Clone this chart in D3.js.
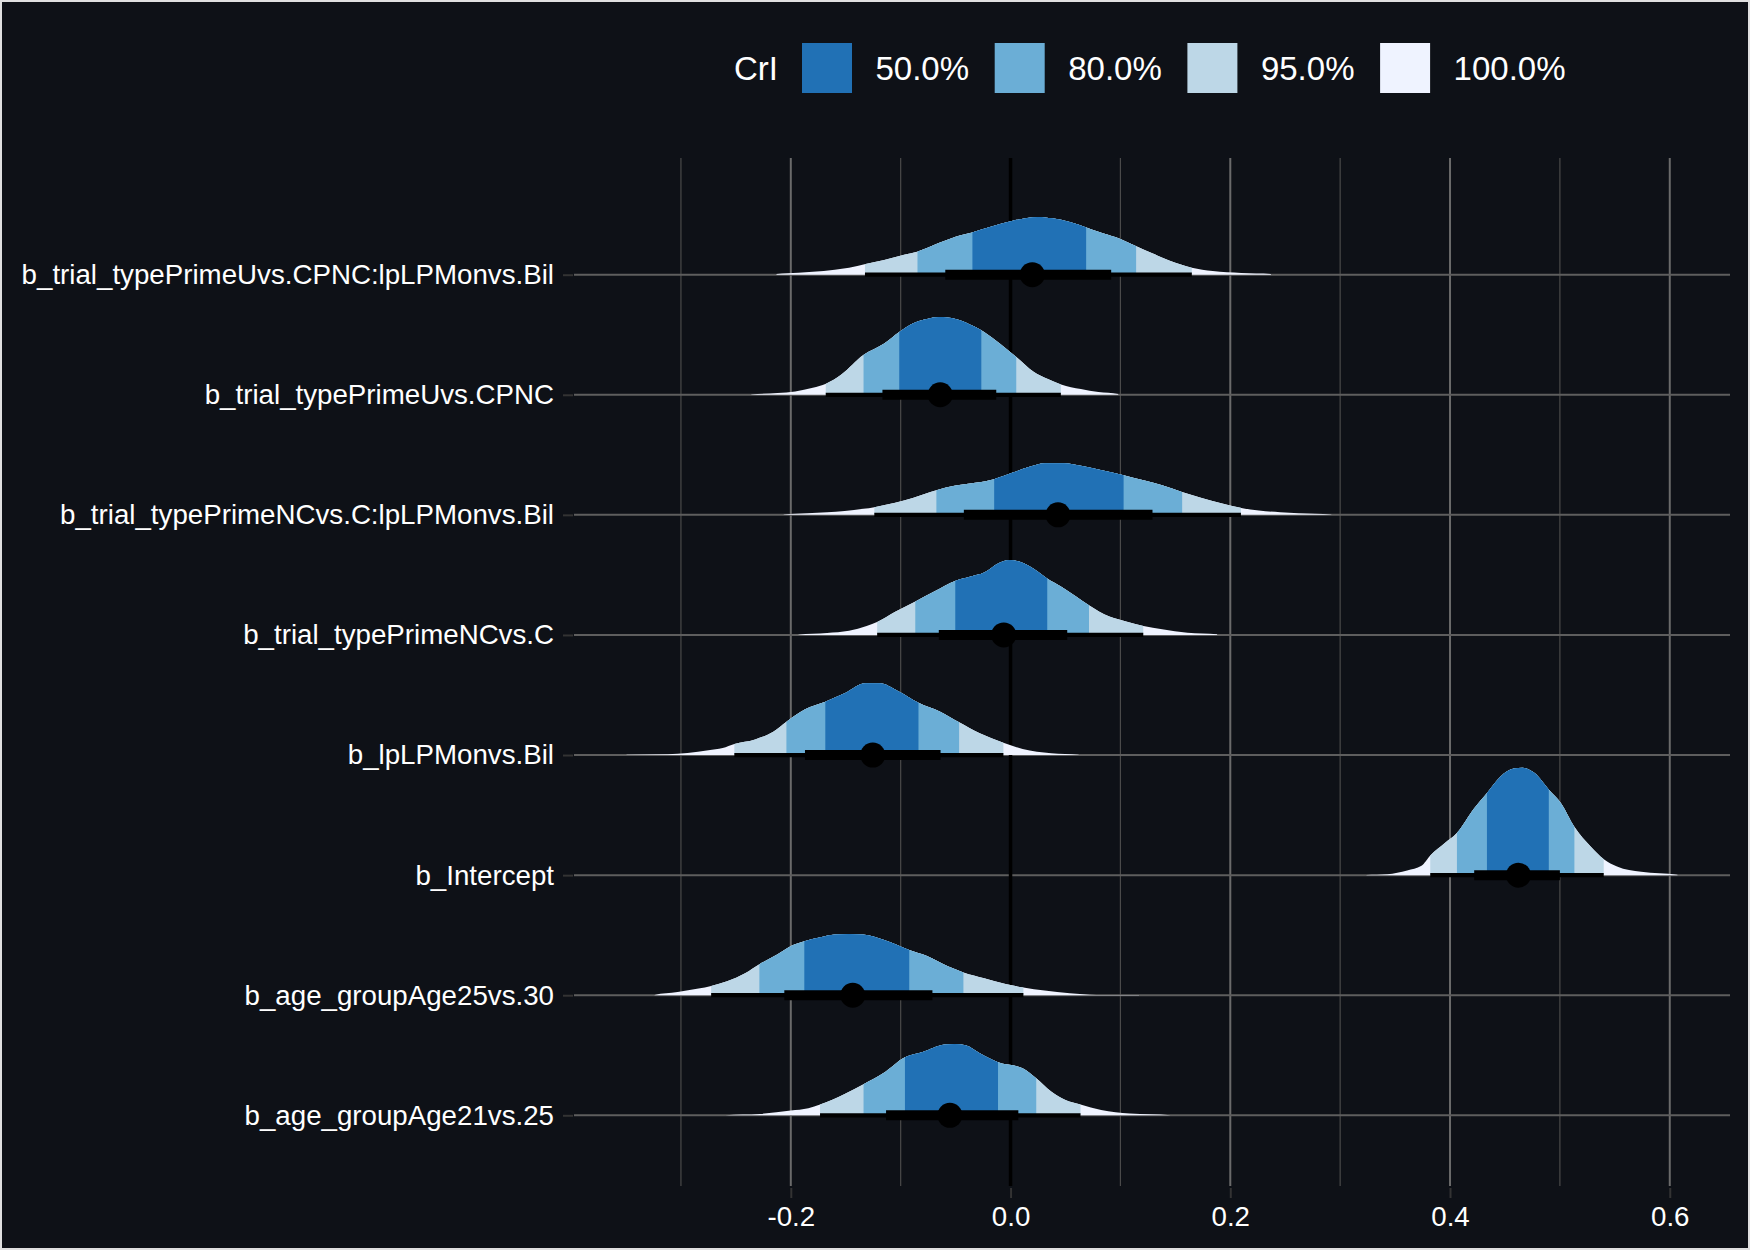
<!DOCTYPE html>
<html>
<head>
<meta charset="utf-8">
<script src="https://cdn.jsdelivr.net/npm/d3@7"></script>
<style>
  body { margin: 0; background: #0e1117; }
  text { font-family: "Liberation Sans", Arial, sans-serif; fill: #ffffff; }
</style>
</head>
<body>
<div id="chart"></div>
<script>
// parameters, top to bottom
const params = [
  "b_trial_typePrimeUvs.CPNC:lpLPMonvs.Bil",
  "b_trial_typePrimeUvs.CPNC",
  "b_trial_typePrimeNCvs.C:lpLPMonvs.Bil",
  "b_trial_typePrimeNCvs.C",
  "b_lpLPMonvs.Bil",
  "b_Intercept",
  "b_age_groupAge25vs.30",
  "b_age_groupAge21vs.25"
];

// posterior density outlines (value, density)
const densX = [
  [-0.213,-0.193,-0.180,-0.160,-0.147,-0.132,-0.115,-0.096,-0.085,-0.066,-0.050,-0.035,-0.018,0.002,0.015,0.025,0.038,0.054,0.069,0.080,0.096,0.114,0.129,0.145,0.165,0.184,0.210,0.237],
  [-0.236,-0.212,-0.196,-0.180,-0.168,-0.154,-0.134,-0.115,-0.101,-0.089,-0.076,-0.065,-0.050,-0.037,-0.027,-0.014,0.005,0.021,0.034,0.046,0.064,0.080,0.098],
  [-0.2065,-0.185,-0.167,-0.151,-0.134,-0.124,-0.105,-0.089,-0.0675,-0.050,-0.0305,-0.015,0.002,0.018,0.031,0.049,0.064,0.080,0.103,0.122,0.138,0.156,0.174,0.1935,0.210,0.226,0.2455,0.262,0.292],
  [-0.193,-0.167,-0.147,-0.131,-0.121,-0.105,-0.087,-0.0695,-0.050,-0.037,-0.024,-0.011,-0.001,0.012,0.025,0.033,0.047,0.060,0.071,0.090,0.106,0.121,0.138,0.161,0.188],
  [-0.3495,-0.312,-0.294,-0.275,-0.262,-0.2514,-0.2325,-0.216,-0.204,-0.187,-0.1686,-0.151,-0.132,-0.119,-0.103,-0.0838,-0.064,-0.0468,-0.028,-0.0065,0.011,0.037,0.062],
  [0.324,0.343,0.361,0.374,0.382,0.395,0.406,0.422,0.434,0.446,0.458,0.466,0.477,0.490,0.501,0.513,0.528,0.540,0.552,0.574,0.607],
  [-0.324,-0.303,-0.284,-0.2725,-0.258,-0.2416,-0.2286,-0.212,-0.199,-0.1877,-0.173,-0.160,-0.147,-0.1345,-0.115,-0.0922,-0.076,-0.0565,-0.0429,-0.024,-0.0045,0.0117,0.031,0.054,0.078,0.117],
  [-0.2595,-0.228,-0.200,-0.184,-0.1734,-0.151,-0.1338,-0.116,-0.0961,-0.080,-0.060,-0.051,-0.041,-0.028,-0.0114,0.011,0.0234,0.037,0.050,0.0637,0.0825,0.1085,0.146]
];
const densY = [
  [0.07,0.19,0.28,0.47,0.65,1.00,1.37,1.89,2.14,2.92,3.54,3.94,4.47,5.03,5.28,5.38,5.25,4.91,4.41,4.01,3.48,2.67,1.99,1.30,0.65,0.34,0.16,0.07],
  [0.03,0.16,0.31,0.65,1.03,1.89,3.70,4.78,5.87,6.64,7.06,7.24,7.06,6.55,6.03,5.10,3.54,2.14,1.46,0.96,0.53,0.25,0.07],
  [0.03,0.16,0.25,0.37,0.56,0.72,1.12,1.58,2.30,2.73,3.01,3.33,3.94,4.50,4.82,4.82,4.57,4.22,3.70,3.20,2.77,2.14,1.58,1.03,0.65,0.40,0.25,0.16,0.03],
  [0.03,0.19,0.40,0.84,1.24,2.17,3.10,4.04,5.06,5.43,5.81,6.68,6.99,6.68,5.90,5.28,4.45,3.57,2.80,1.71,1.24,0.84,0.53,0.21,0.07],
  [0.02,0.07,0.19,0.44,0.65,1.03,1.46,2.17,3.10,4.26,4.97,5.75,6.68,6.68,5.99,4.87,4.04,3.05,2.02,1.15,0.56,0.16,0.03],
  [0.02,0.09,0.44,0.87,1.84,2.98,3.91,6.24,7.71,9.20,9.94,10.00,9.51,7.95,6.71,4.54,2.67,1.49,0.81,0.31,0.03],
  [0.03,0.31,0.62,0.87,1.30,2.05,2.89,3.82,4.63,5.03,5.41,5.66,5.71,5.66,5.15,4.22,3.66,2.67,2.12,1.58,1.05,0.72,0.44,0.19,0.03,0.01],
  [0.01,0.12,0.44,0.65,1.00,1.99,2.89,3.91,5.41,5.90,6.59,6.64,6.52,5.78,4.94,4.38,3.45,2.21,1.43,1.00,0.49,0.16,0.01]
];

// credible intervals [lo, hi]
const ci50 = [[-0.0347,0.0688],[-0.1013,-0.0266],[-0.0149,0.1029],[-0.0503,0.0334],[-0.1686,-0.0838],[0.4336,0.4899],[-0.1877,-0.0922],[-0.0961,-0.0114]];
const ci80 = [[-0.0847,0.1143],[-0.1338,0.0052],[-0.0675,0.1562],[-0.0867,0.0714],[-0.204,-0.0468],[0.4063,0.5132],[-0.2286,-0.0429],[-0.1338,0.0234]];
const ci95 = [[-0.1325,0.165],[-0.1682,0.0458],[-0.124,0.2097],[-0.1214,0.1208],[-0.2514,-0.0065],[0.382,0.5399],[-0.2725,0.0117],[-0.1734,0.0637]];
const ci66 = [[-0.0594,0.0916],[-0.1166,-0.013],[-0.0425,0.1292],[-0.0653,0.0516],[-0.1871,-0.0637],[0.422,0.5],[-0.2059,-0.0711],[-0.1133,0.0071]];
const medians = [0.0198,-0.064,0.0432,-0.0062,-0.1254,0.4623,-0.1436,-0.0552];

const levels = ["50.0%","80.0%","95.0%","100.0%"];
const levelColors = ["#2171b5","#6baed6","#bdd7e7","#eff3ff"];
const xTicks = [-0.2, 0.0, 0.2, 0.4, 0.6];
const xMinor = [-0.3, -0.1, 0.1, 0.3, 0.5];

const W = 1750, H = 1250;
const panel = {left: 574, right: 1730, top: 158, bottom: 1186};

const svg = d3.select("#chart").append("svg")
    .attr("width", W)
    .attr("height", H);

svg.append("rect")
    .attr("x", 1).attr("y", 1)
    .attr("width", W - 2).attr("height", H - 2)
    .attr("fill", "#0e1117")
    .attr("stroke", "#e0e0e0")
    .attr("stroke-width", 2);

// x scale with ggplot style 5% expansion
let allX = densX.flat();
let lo = d3.min(allX), hi = d3.max(allX), span = hi - lo;
let x = d3.scaleLinear()
    .domain([lo - 0.05 * span, hi + 0.05 * span])
    .range([panel.left, panel.right]);

let y = d3.scalePoint()
    .domain(params)
    .range([274.7, 1115.3]);

let h = d3.scaleLinear()
    .domain([0, 10])
    .range([0, 107.3]);

// grid
let grid = svg.append("g");
grid.selectAll(".minor").data(xMinor).enter()
    .append("line")
    .attr("x1", d => x(d)).attr("x2", d => x(d))
    .attr("y1", panel.top).attr("y2", panel.bottom)
    .attr("stroke", "#4a4a4a")
    .attr("stroke-width", 1.2);
grid.selectAll(".major").data(xTicks).enter()
    .append("line")
    .attr("x1", d => x(d)).attr("x2", d => x(d))
    .attr("y1", panel.top).attr("y2", panel.bottom)
    .attr("stroke", "#6a6a6a")
    .attr("stroke-width", 2);
grid.selectAll(".hline").data(params).enter()
    .append("line")
    .attr("x1", panel.left).attr("x2", panel.right)
    .attr("y1", d => y(d)).attr("y2", d => y(d))
    .attr("stroke", "#5e5e5e")
    .attr("stroke-width", 2);

// zero reference line
svg.append("line")
    .attr("x1", x(0)).attr("x2", x(0))
    .attr("y1", panel.top).attr("y2", panel.bottom)
    .attr("stroke", "#000000")
    .attr("stroke-width", 3.5);

// axes
let xAxis = svg.append("g")
    .attr("transform", `translate(0,${panel.bottom + 2})`)
    .call(d3.axisBottom(x).tickValues(xTicks).tickSize(10).tickPadding(8).tickFormat(d3.format(".1f")));
xAxis.select(".domain").remove();
xAxis.selectAll("line").attr("stroke", "#333333").attr("stroke-width", 2);
xAxis.selectAll("text").style("font-size", "27.7px").attr("fill", "#ffffff")
    .text(d => d3.format(".1f")(d).replace("−", "-"));

let yAxis = svg.append("g")
    .attr("transform", `translate(${panel.left - 1},0)`)
    .call(d3.axisLeft(y).tickSize(10).tickPadding(9));
yAxis.select(".domain").remove();
yAxis.selectAll("line").attr("stroke", "#333333").attr("stroke-width", 2);
yAxis.selectAll("text").style("font-size", "27.7px").attr("fill", "#ffffff");

// slabs
let defs = svg.append("defs");
let slabs = svg.append("g");
let bands = [null, ci95, ci80, ci50];   // drawn from widest to narrowest
let bandColors = ["#eff3ff", "#bdd7e7", "#6baed6", "#2171b5"];

params.forEach(function(p, i) {
    let pts = densX[i].map((v, k) => ({x: v, d: densY[i][k]}));
    pts.unshift({x: densX[i][0], d: 0});
    pts.push({x: densX[i][densX[i].length - 1], d: 0});
    let base = y(p);
    let area = d3.area()
        .x(d => x(d.x))
        .y0(base)
        .y1(d => base - h(d.d))
        .curve(d3.curveMonotoneX);

    bands.forEach(function(b, j) {
        let path = slabs.append("path")
            .attr("d", area(pts))
            .attr("fill", bandColors[j]);
        if (b) {
            let id = `clip-${i}-${j}`;
            defs.append("clipPath").attr("id", id)
                .append("rect")
                .attr("x", x(b[i][0]))
                .attr("width", x(b[i][1]) - x(b[i][0]))
                .attr("y", base - 130)
                .attr("height", 131);
            path.attr("clip-path", `url(#${id})`);
        }
    });
});

// point + intervals
let intervals = svg.append("g");
intervals.selectAll(".thin").data(params).enter()
    .append("line")
    .attr("x1", (d, i) => x(ci95[i][0]))
    .attr("x2", (d, i) => x(ci95[i][1]))
    .attr("y1", d => y(d)).attr("y2", d => y(d))
    .attr("stroke", "#000000")
    .attr("stroke-width", 4.3);
intervals.selectAll(".thick").data(params).enter()
    .append("line")
    .attr("x1", (d, i) => x(ci66[i][0]))
    .attr("x2", (d, i) => x(ci66[i][1]))
    .attr("y1", d => y(d)).attr("y2", d => y(d))
    .attr("stroke", "#000000")
    .attr("stroke-width", 10);
intervals.selectAll("circle").data(params).enter()
    .append("circle")
    .attr("cx", (d, i) => x(medians[i]))
    .attr("cy", d => y(d))
    .attr("r", 12.5)
    .attr("fill", "#000000");

// legend
let legend = svg.append("g");
legend.append("text")
    .attr("x", 734).attr("y", 68)
    .attr("dominant-baseline", "central")
    .style("font-size", "33px")
    .text("CrI");
let keys = legend.selectAll(".key").data(levels).enter()
    .append("g")
    .attr("transform", (d, i) => `translate(${802 + i * 192.7},43)`);
keys.append("rect")
    .attr("width", 50).attr("height", 50)
    .attr("fill", (d, i) => levelColors[i]);
keys.append("text")
    .attr("x", 73.5).attr("y", 25)
    .attr("dominant-baseline", "central")
    .style("font-size", "33px")
    .text(d => d);
</script>
</body>
</html>
